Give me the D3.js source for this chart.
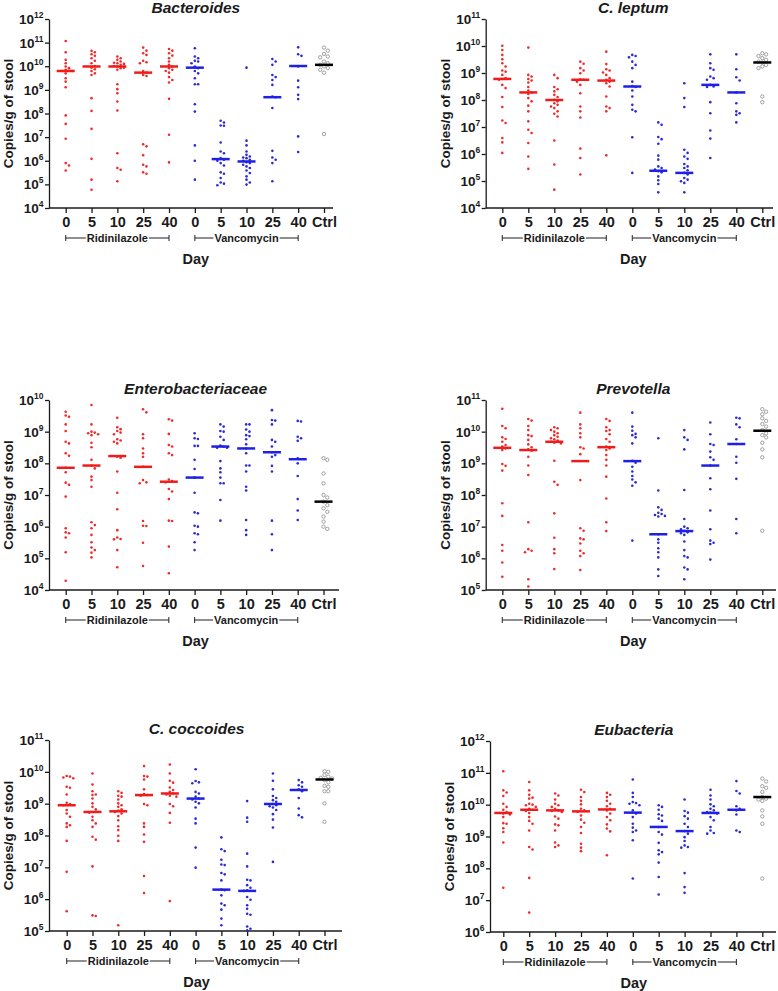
<!DOCTYPE html>
<html>
<head>
<meta charset="utf-8">
<script src="https://cdn.jsdelivr.net/npm/d3@7/dist/d3.min.js"></script>
<style>
  html, body { margin: 0; padding: 0; background: #fff; }
  svg { display: block; font-family: "Liberation Sans", Arial, Helvetica, sans-serif; }
</style>
</head>
<body>
<script>
// ---------------- DATA (values are log10 of copies/g of stool) ----------------
const dayLabels = ["0", "5", "10", "25", "40", "0", "5", "10", "25", "40", "Ctrl"];
const groupArm  = ["R", "R", "R", "R", "R", "V", "V", "V", "V", "V", "C"];
const armNames  = ["Ridinilazole", "Vancomycin"];
const panelTitles = ["Bacteroides", "C. leptum", "Enterobacteriaceae", "Prevotella", "C. coccoides", "Eubacteria"];
const yDomainExp  = [[4, 12], [4, 11], [4, 10], [5, 11], [5, 11], [6, 12]];
const yAxisTitle = "Copies/g of stool";
const xAxisTitle = "Day";

const bacteroidesLog = [
  [11.07,10.59,10.27,10.13,9.99,9.92,9.85,9.80,9.80,9.70,9.49,9.35,9.11,7.92,7.56,6.93,5.90,5.80,5.59],
  [10.65,10.59,10.51,10.44,10.34,10.23,10.13,10.01,9.94,9.87,9.80,9.70,9.63,8.65,8.11,7.35,6.08,5.20,4.77],
  [10.41,10.34,10.27,10.20,10.15,10.13,10.10,10.06,10.01,9.99,9.94,9.92,9.85,9.24,9.03,8.86,8.51,8.13,6.32,5.69,5.62,5.13],
  [10.79,10.66,10.55,10.48,10.23,10.17,10.13,9.80,9.73,9.63,9.59,6.70,6.61,6.23,5.83,5.76,5.51,5.45],
  [10.73,10.66,10.55,10.45,10.34,10.20,10.06,9.99,9.92,9.85,9.80,9.73,9.54,9.42,9.31,8.62,7.10,5.93],
  [10.76,10.41,10.34,10.23,10.20,10.13,9.99,9.92,9.80,9.70,9.49,9.24,9.24,8.39,8.08,6.65,6.00,5.20],
  [7.69,7.62,7.49,7.48,6.77,6.39,6.32,6.11,6.04,6.00,5.90,5.80,5.51,5.45,5.27,5.08,5.03,4.96],
  [9.94,6.85,6.65,6.39,6.25,6.18,6.14,6.11,6.04,6.00,5.94,5.90,5.83,5.76,5.69,5.59,5.48,5.34,5.20,5.08,4.99],
  [10.31,10.20,10.06,9.63,9.54,9.42,9.21,8.72,8.69,8.23,6.42,6.14,6.04,5.90,5.13],
  [10.80,10.51,10.44,9.99,9.39,9.11,8.79,8.61,7.03,6.37],
  [10.79,10.66,10.52,10.41,10.38,10.20,10.13,10.06,9.99,9.92,9.85,9.73,7.13]
];
const bacteroidesMedianLog = [9.80,9.99,9.99,9.73,9.99,9.94,6.07,5.97,8.69,10.01,10.06];

const leptumLog = [
  [10.01,9.85,9.67,9.51,9.36,9.24,9.09,9.05,8.93,8.81,8.78,8.75,8.56,8.44,8.11,7.74,7.24,7.15,6.59,6.43,6.04],
  [9.94,8.93,8.87,8.78,8.72,8.65,8.48,8.35,8.28,8.22,8.07,7.95,7.79,7.58,7.21,6.90,6.78,6.41,5.91,5.45],
  [8.93,8.81,8.48,8.40,8.32,8.19,8.11,8.01,7.95,7.88,7.82,7.76,7.70,7.58,7.49,7.39,6.50,5.61,4.68],
  [9.42,9.34,9.18,9.09,8.99,8.77,8.75,8.68,8.56,8.25,7.76,7.58,7.35,6.20,5.85,5.24],
  [9.79,9.33,9.14,9.09,9.02,8.93,8.81,8.75,8.68,8.62,8.50,8.13,7.76,7.70,7.58,5.95],
  [9.67,9.63,9.58,9.42,9.30,9.18,8.68,8.52,8.48,8.35,8.13,7.82,7.64,7.58,6.62,5.30],
  [7.17,7.08,6.63,6.55,6.38,5.94,5.79,5.54,5.48,5.42,5.36,5.32,5.17,5.03,4.89,4.58],
  [8.62,8.07,7.74,6.16,6.04,5.91,5.82,5.63,5.54,5.48,5.40,5.30,5.24,5.11,5.05,4.99,4.93,4.58],
  [9.69,9.36,9.18,9.12,8.87,8.81,8.75,8.56,8.50,8.48,7.92,7.51,6.87,6.57,5.85],
  [9.69,9.14,8.84,8.72,8.28,7.88,7.58,7.51,7.45,7.17],
  [9.73,9.69,9.63,9.55,9.49,9.42,9.39,9.30,9.24,9.18,8.13,7.92]
];
const leptumMedianLog = [8.78,8.28,8.00,8.75,8.72,8.50,5.38,5.30,8.56,8.28,9.39];

const enteroLog = [
  [9.63,9.51,9.47,9.23,9.02,8.68,8.63,8.32,8.24,7.86,7.72,7.39,7.32,6.95,5.95,5.82,5.79,5.66,5.19,4.29],
  [9.84,9.23,9.00,8.97,8.95,8.92,8.89,8.65,8.51,8.11,7.93,7.84,7.58,7.47,7.26,6.14,6.05,5.95,5.74,5.51,5.34,5.26,5.18,5.03],
  [9.44,9.14,9.08,9.02,8.97,8.92,8.76,8.72,8.68,8.63,8.21,8.18,7.74,7.07,6.55,5.89,5.66,5.61,5.60,5.26,4.72],
  [9.71,9.61,8.92,8.79,8.47,8.32,8.21,7.89,7.47,7.40,7.37,6.18,6.03,6.02,5.49,4.76],
  [9.39,9.35,8.93,8.58,8.53,8.32,8.26,7.49,7.44,7.40,7.19,7.11,6.87,6.19,6.18,5.37,4.53],
  [8.95,8.79,8.77,8.55,8.55,8.11,7.82,7.55,7.07,6.45,6.42,6.03,6.00,5.79,5.76,5.51,5.26],
  [9.23,9.16,9.02,9.00,8.84,8.74,8.56,8.53,8.49,8.49,8.07,7.84,7.72,7.55,7.37,7.37,6.84,6.19],
  [9.23,9.23,9.07,9.00,8.89,8.86,8.76,8.60,8.47,8.32,7.93,7.93,7.74,7.26,7.14,6.21,5.89,5.74],
  [9.68,9.37,9.35,9.23,8.74,8.68,8.53,8.35,8.26,8.21,7.92,7.74,6.19,5.76,5.26],
  [9.34,9.32,8.84,8.79,8.71,8.16,8.00,7.60,6.87,6.51,6.21],
  [8.16,8.11,7.68,7.37,7.00,6.92,6.79,6.68,6.58,6.47,6.32,6.16,6.00,5.93]
];
const enteroMedianLog = [7.86,7.93,8.23,7.89,7.42,7.55,8.53,8.47,8.35,8.13,6.79];

const prevotellaLog = [
  [10.72,10.18,10.11,9.82,9.77,9.68,9.58,9.53,9.47,9.42,8.98,8.92,8.77,7.74,7.34,6.42,6.24,5.87,5.42],
  [10.40,10.35,10.18,10.05,9.89,9.86,9.74,9.60,9.51,9.44,9.40,9.21,8.93,8.63,7.14,6.29,6.24,6.19,5.34,5.11],
  [10.14,10.11,10.05,10.00,9.95,9.89,9.84,9.79,9.76,9.72,9.68,9.65,9.63,9.08,8.42,8.32,7.42,6.65,6.29,6.16,5.66],
  [10.60,10.23,10.11,9.95,9.82,9.51,9.47,9.29,8.47,6.95,6.87,6.63,6.60,6.47,6.24,6.16,6.07,5.63],
  [10.40,10.34,10.14,10.05,10.02,9.92,9.77,9.68,9.53,9.47,9.42,9.26,9.11,8.93,8.58,7.89,7.14,6.86],
  [10.60,10.16,10.03,9.93,9.89,9.82,9.63,9.08,9.02,8.89,8.74,8.60,8.49,8.40,8.29,6.56],
  [9.79,8.14,7.61,7.53,7.44,7.40,7.37,7.34,7.32,6.76,6.60,6.49,6.32,6.19,6.03,5.65,5.44],
  [10.05,9.82,9.74,9.44,8.16,7.24,7.00,6.95,6.92,6.87,6.82,6.79,6.74,6.53,6.26,6.07,6.03,5.71,5.65,5.34],
  [10.29,9.92,9.61,9.58,9.37,9.19,9.11,8.93,8.53,8.18,7.51,6.92,6.56,6.49,6.45,5.96],
  [10.44,10.42,10.23,10.14,9.76,9.61,9.21,9.02,8.51,7.24,6.79],
  [10.71,10.63,10.55,10.42,10.34,10.24,10.16,10.05,9.95,9.89,9.82,9.65,9.44,9.19,6.87]
];
const prevotellaMedianLog = [9.49,9.42,9.68,9.07,9.51,9.07,6.76,6.86,8.93,9.61,10.03];

const coccoidesLog = [
  [9.87,9.85,9.82,9.80,9.53,9.50,9.29,9.03,8.99,8.95,8.80,8.69,8.59,8.38,8.32,8.27,7.83,6.86,5.62],
  [9.95,9.60,9.39,9.29,9.27,9.16,9.01,8.90,8.82,8.74,8.72,8.59,8.48,8.38,8.27,7.96,7.87,7.03,5.49,5.47],
  [9.39,9.34,9.25,9.22,9.13,9.01,8.95,8.90,8.82,8.78,8.74,8.69,8.61,8.48,8.29,8.17,7.99,7.83,5.18],
  [10.18,9.87,9.85,9.76,9.45,9.30,9.27,9.25,8.99,8.95,8.38,8.27,8.03,7.80,6.73,6.19],
  [10.23,9.95,9.72,9.66,9.51,9.43,9.37,9.32,9.29,9.25,9.22,8.99,8.92,8.71,8.40,5.94],
  [10.08,9.71,9.67,9.64,9.37,9.32,9.22,9.16,9.13,9.06,9.01,8.88,8.53,8.38,7.62,6.99],
  [7.94,7.57,7.51,7.24,7.09,7.07,6.82,6.78,6.59,6.30,6.28,6.12,5.86,5.81,5.67,5.39,5.18],
  [9.08,8.56,8.43,7.43,7.03,6.61,6.59,6.44,6.36,6.28,6.26,6.07,5.98,5.81,5.70,5.54,5.51,5.14,5.07,5.02],
  [9.95,9.72,9.45,9.24,9.18,9.11,9.06,8.99,8.95,8.92,8.88,8.80,8.67,8.50,8.25,7.17],
  [9.74,9.67,9.58,9.53,9.45,9.39,9.18,8.85,8.64,8.57],
  [10.02,10.00,9.90,9.85,9.81,9.79,9.74,9.67,9.56,9.53,9.39,9.39,9.01,8.43]
];
const coccoidesMedianLog = [8.95,8.74,8.76,9.27,9.32,9.16,6.30,6.26,8.99,9.43,9.76];

const eubacteriaLog = [
  [11.05,10.45,10.38,10.27,10.03,9.93,9.84,9.77,9.74,9.72,9.69,9.61,9.42,9.40,9.26,9.14,8.81,7.39],
  [10.71,10.45,10.31,10.22,10.19,10.03,10.00,9.98,9.93,9.87,9.84,9.80,9.74,9.61,9.49,9.40,9.19,8.67,8.59,7.70,6.61],
  [10.35,10.29,10.16,10.03,9.98,9.93,9.87,9.82,9.80,9.77,9.63,9.56,9.38,9.35,9.19,8.81,8.72,8.67],
  [10.47,10.40,10.24,10.12,10.01,9.87,9.82,9.77,9.66,9.53,9.43,9.30,9.11,8.77,8.65,8.54],
  [10.37,10.31,10.24,10.12,10.03,9.95,9.87,9.82,9.72,9.61,9.51,9.38,9.25,9.16,8.41],
  [10.79,10.37,10.24,10.08,10.05,10.03,9.98,9.82,9.72,9.61,9.40,9.28,9.19,9.14,8.88,7.68],
  [9.98,9.93,9.84,9.70,9.66,9.56,9.49,9.30,9.14,9.06,8.80,8.57,8.51,8.44,8.18,7.73,7.18],
  [10.16,9.80,9.75,9.64,9.56,9.40,9.30,9.17,9.09,8.98,8.86,8.72,8.67,8.65,7.85,7.41,7.23],
  [10.47,10.29,10.16,10.01,9.95,9.87,9.82,9.77,9.75,9.72,9.61,9.51,9.30,9.19,9.11,9.09],
  [10.74,10.43,10.35,9.95,9.87,9.82,9.69,9.19,9.14],
  [10.82,10.73,10.58,10.53,10.40,10.24,10.19,10.16,10.12,9.82,9.63,9.40,7.68]
];
const eubacteriaMedianLog = [9.74,9.84,9.82,9.79,9.85,9.75,9.30,9.17,9.74,9.84,10.24];

const panelValues  = [bacteroidesLog, leptumLog, enteroLog, prevotellaLog, coccoidesLog, eubacteriaLog];
const panelMedians = [bacteroidesMedianLog, leptumMedianLog, enteroMedianLog, prevotellaMedianLog, coccoidesMedianLog, eubacteriaMedianLog];

// ---------------- LAYOUT (pixel geometry, separate from data) ----------------
const layout = [
  { axisX: 49,    top: 19,  bottom: 208, x0: 65.7,  x1: 324,   xEnd: 333 },
  { axisX: 485.7, top: 19,  bottom: 208, x0: 502.3, x1: 762.3, xEnd: 773 },
  { axisX: 49,    top: 400, bottom: 590, x0: 65.7,  x1: 323.5, xEnd: 339 },
  { axisX: 485.7, top: 400, bottom: 590, x0: 502.3, x1: 762.3, xEnd: 776 },
  { axisX: 49,    top: 740, bottom: 931, x0: 66.7,  x1: 324.5, xEnd: 342 },
  { axisX: 490,   top: 741, bottom: 932, x0: 503.3, x1: 762.3, xEnd: 776 }
];
const style = {
  ink: "#1a1a1a",
  dot: { R: "#ee2b2b", V: "#2a2ad6" },
  median: { R: "#f01c1c", V: "#1f1fe6", C: "#000000" },
  ctrlStroke: "#8c8c8c"
};

// ---------------- DRAW ----------------
const svg = d3.select("body").append("svg").attr("width", 778).attr("height", 991);

function swarm(vals, yScale, cx, d) {
  const pts = vals.map(v => ({ v, y: yScale(Math.pow(10, v)) }));
  const order = pts.slice().sort((a, b) => a.y - b.y);
  const placed = [];
  for (const p of order) {
    for (let k = 0; k < 60; k++) {
      const off = k === 0 ? 0 : (k % 2 ? 1 : -1) * Math.ceil(k / 2) * d;
      const ok = placed.every(q => (q.dx - off) ** 2 + (q.y - p.y) ** 2 >= d * d * 0.98);
      if (ok) { p.dx = off; break; }
    }
    if (p.dx === undefined) p.dx = 0;
    placed.push(p);
  }
  pts.forEach(p => p.x = cx + p.dx);
  return pts;
}

panelTitles.forEach((title, pi) => {
  const L = layout[pi];
  const [lo, hi] = yDomainExp[pi];
  const g = svg.append("g");
  const y = d3.scaleLog().domain([Math.pow(10, lo), Math.pow(10, hi)]).range([L.bottom, L.top]);
  const x = d3.scalePoint().domain(d3.range(dayLabels.length)).range([L.x0, L.x1]);
  const decades = d3.range(lo, hi + 1);

  // Y axis
  const ya = g.append("g").attr("transform", `translate(${L.axisX},0)`)
    .call(d3.axisLeft(y).tickValues(decades.map(e => Math.pow(10, e))).tickSize(4).tickSizeOuter(0).tickFormat(""));
  ya.selectAll("path,line").attr("stroke", style.ink).attr("stroke-width", 1.3);
  decades.forEach(e => {
    const t = g.append("text")
      .attr("x", L.axisX - 5.5).attr("y", y(Math.pow(10, e)) + 5)
      .attr("text-anchor", "end").attr("font-weight", "bold").attr("fill", style.ink);
    t.append("tspan").attr("font-size", 13.5).text("10");
    t.append("tspan").attr("font-size", 8.5).attr("dy", -6).text(String(e));
  });

  // X axis
  const xa = g.append("g").attr("transform", `translate(0,${L.bottom})`)
    .call(d3.axisBottom(x).tickSize(5).tickSizeOuter(0).tickPadding(4).tickFormat(i => dayLabels[i]));
  xa.select(".domain").remove();
  xa.selectAll("line").attr("stroke", style.ink).attr("stroke-width", 1.3);
  xa.selectAll("text").attr("font-size", 14.5).attr("font-weight", "bold").attr("fill", style.ink)
    .attr("font-family", '"Liberation Sans", Arial, sans-serif');
  g.append("line").attr("x1", L.axisX).attr("x2", L.xEnd).attr("y1", L.bottom).attr("y2", L.bottom)
    .attr("stroke", style.ink).attr("stroke-width", 1.3);

  // Treatment brackets
  armNames.forEach((name, ai) => {
    const xs = x(ai * 5), xe = x(ai * 5 + 4), xm = x(ai * 5 + 2);
    const by = L.bottom + 30;
    const txt = g.append("text").attr("x", xm).attr("y", by + 4).attr("text-anchor", "middle")
      .attr("font-size", 11).attr("font-weight", "bold").attr("fill", style.ink).text(name);
    const w = txt.node().getComputedTextLength();
    const seg = [[xs, xm - w / 2 - 1], [xm + w / 2 + 1, xe]];
    seg.forEach(([a, b]) => g.append("line").attr("x1", a).attr("x2", b).attr("y1", by).attr("y2", by)
      .attr("stroke", "#333").attr("stroke-width", 1.1));
    [xs, xe].forEach(xx => g.append("line").attr("x1", xx).attr("x2", xx).attr("y1", by - 3).attr("y2", by + 3)
      .attr("stroke", "#333").attr("stroke-width", 1.1));
  });

  const cx = (L.x0 + L.x1) / 2 + 1;
  // Axis titles and panel title
  g.append("text").attr("x", cx).attr("y", L.bottom + 56).attr("text-anchor", "middle")
    .attr("font-size", 14.5).attr("font-weight", "bold").attr("fill", style.ink).text(xAxisTitle);
  g.append("text").attr("transform", `translate(${L.axisX - 36},${(L.top + L.bottom) / 2}) rotate(-90)`)
    .attr("text-anchor", "middle").attr("font-size", 13.5).attr("font-weight", "bold").attr("fill", style.ink)
    .text(yAxisTitle);
  g.append("text").attr("x", cx).attr("y", L.top - 6).attr("text-anchor", "middle")
    .attr("font-size", 15.5).attr("font-weight", "bold").attr("font-style", "italic").attr("fill", style.ink)
    .text(title);

  // Points
  panelValues[pi].forEach((vals, gi) => {
    const arm = groupArm[gi];
    const pts = swarm(vals, y, x(gi), arm === "C" ? 3.8 : 3.3);
    if (arm === "C") {
      g.selectAll(null).data(pts).enter().append("circle")
        .attr("cx", d => d.x).attr("cy", d => d.y).attr("r", 1.7)
        .attr("fill", "#fff").attr("stroke", style.ctrlStroke).attr("stroke-width", 0.8);
    } else {
      g.selectAll(null).data(pts).enter().append("circle")
        .attr("cx", d => d.x).attr("cy", d => d.y).attr("r", 1.3)
        .attr("fill", style.dot[arm]);
    }
    const my = y(Math.pow(10, panelMedians[pi][gi]));
    g.append("line").attr("x1", x(gi) - 9).attr("x2", x(gi) + 9).attr("y1", my).attr("y2", my)
      .attr("stroke", style.median[arm]).attr("stroke-width", 2.5);
  });
});
</script>
</body>
</html>
